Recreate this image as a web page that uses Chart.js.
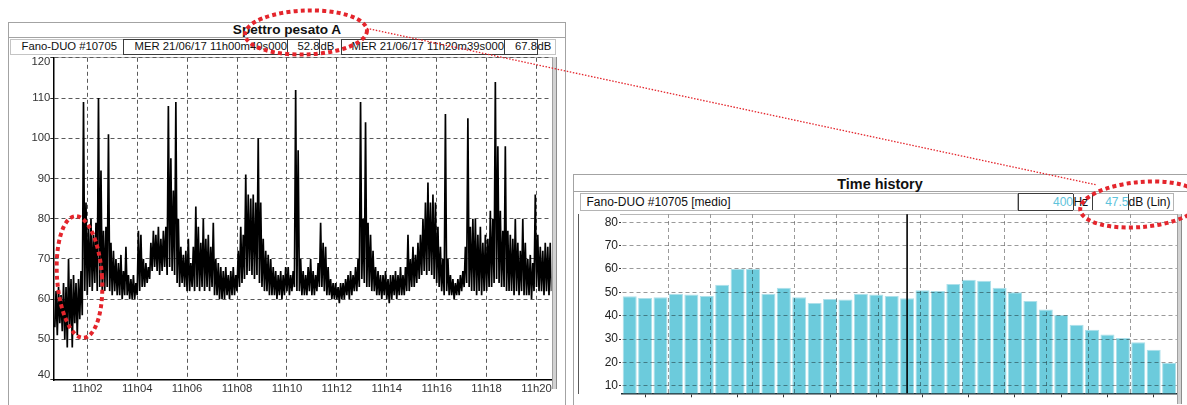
<!DOCTYPE html>
<html><head><meta charset="utf-8">
<script src="https://cdn.jsdelivr.net/npm/chart.js@4.4.1/dist/chart.umd.min.js"></script>
<style>
html,body{margin:0;padding:0;background:#fff;}
body{width:1187px;height:405px;overflow:hidden;position:relative;font-family:"Liberation Sans",Arial,sans-serif;color:#111;}
.a{position:absolute;box-sizing:border-box;}
.t{position:absolute;white-space:nowrap;line-height:1;}
.lf{font-size:11.3px;}
.rf{font-size:12px;}
.dark{border:1px solid #3c3c3c;}
.light{border:1px solid #b4b4b4;}
</style></head><body>

<!-- ===== left panel frame ===== -->
<div class="a" style="left:8px;top:22px;width:558px;height:430px;border:1.5px solid #a3a3a3;"></div>
<div class="a" style="left:9px;top:36.5px;width:556px;height:1px;background:#a3a3a3;"></div>
<div class="t" style="left:8px;width:558px;text-align:center;top:23px;font-weight:bold;font-size:13.6px;">Spettro pesato A</div>
<div class="a light" style="left:10px;top:38.5px;width:546px;height:16px;border-color:#c4c4c4;"></div>
<div class="a dark" style="left:122.5px;top:38.5px;width:165px;height:16px;"></div>
<div class="a dark" style="left:287px;top:38.5px;width:33px;height:16px;"></div>
<div class="a dark" style="left:340.5px;top:38.5px;width:164px;height:16px;"></div>
<div class="a dark" style="left:504px;top:38.5px;width:33.5px;height:16px;"></div>
<div class="t lf" style="left:21.5px;top:41.2px;">Fano-DUO #10705</div>
<div class="t lf" style="left:122px;width:165px;text-align:right;top:41.2px;">MER 21/06/17 11h00m40s000</div>
<div class="t lf" style="left:287px;width:32.5px;text-align:right;top:41.2px;">52.8</div>
<div class="t lf" style="left:320.5px;top:41.2px;">dB</div>
<div class="t lf" style="left:340px;width:164px;text-align:right;top:41.2px;">MER 21/06/17 11h20m39s000</div>
<div class="t lf" style="left:504px;width:33px;text-align:right;top:41.2px;">67.8</div>
<div class="t lf" style="left:537.5px;top:41.2px;">dB</div>
<div class="a" style="left:53px;top:56.5px;width:503px;height:1px;background:#b8b8b8;"></div>
<div class="a" style="left:551.5px;top:56.5px;width:5px;height:332px;background:#d2d2d2;border-left:1px solid #a0a0a0;border-right:1px solid #8c8c8c;"></div>

<div class="a" style="left:8px;top:56px;width:557px;height:349px;"><canvas id="cA" width="557" height="349"></canvas></div>

<!-- ===== right panel frame ===== -->
<div class="a" style="left:573px;top:174px;width:630px;height:260px;border:1.5px solid #a3a3a3;"></div>
<div class="a" style="left:574px;top:191.3px;width:620px;height:1px;background:#a3a3a3;"></div>
<div class="t" style="left:573px;width:614px;text-align:center;top:177.1px;font-weight:bold;font-size:14.4px;">Time history</div>
<div class="a light" style="left:580px;top:193.3px;width:438px;height:18px;"></div>
<div class="a dark" style="left:1018px;top:193.3px;width:55.5px;height:18px;"></div>
<div class="a dark" style="left:1092px;top:193.3px;width:36.5px;height:18px;"></div>
<div class="a" style="left:1172.5px;top:193.3px;width:1px;height:18px;background:#b4b4b4;"></div>
<div class="a" style="left:1073px;top:193.3px;width:100px;height:1px;background:#b4b4b4;"></div>
<div class="a" style="left:1073px;top:210.3px;width:100px;height:1px;background:#b4b4b4;"></div>
<div class="t rf" style="left:586.5px;top:195.5px;">Fano-DUO #10705 [medio]</div>
<div class="t rf" id="hzVal" style="left:1018px;width:55px;text-align:right;top:195.5px;color:#5ec3db;"></div>
<div class="t rf" style="left:1073.5px;top:195.5px;">Hz</div>
<div class="t rf" id="dbVal" style="left:1092px;width:36.5px;text-align:right;top:195.5px;color:#5ec3db;"></div>
<div class="t rf" style="left:1128.5px;top:195.5px;">dB (Lin)</div>
<div class="a" style="left:620px;top:213.5px;width:560px;height:1px;background:#b8b8b8;"></div>
<div class="a" style="left:1177px;top:213.5px;width:4.5px;height:190px;background:#d2d2d2;border-left:1px solid #a0a0a0;border-right:1px solid #8c8c8c;"></div>

<div class="a" style="left:578px;top:212px;width:609px;height:193px;"><canvas id="cB" width="609" height="193"></canvas></div>

<!-- ===== red annotations ===== -->
<svg class="a" style="left:0;top:0;pointer-events:none;" width="1187" height="405">
  <g fill="none" stroke="#e4252c">
    <line x1="366.7" y1="28.3" x2="1097" y2="185" stroke-width="1.3" stroke-dasharray="1.5 1.6"/>
    <ellipse cx="306" cy="32.5" rx="61" ry="22" transform="rotate(-2 306 32.5)" stroke-width="4" stroke-dasharray="4 3.2"/>
    <ellipse cx="79.5" cy="277" rx="22.5" ry="61" transform="rotate(-4 79.5 277)" stroke-width="4" stroke-dasharray="4 3.2"/>
    <ellipse cx="1141" cy="204.5" rx="61" ry="22.5" transform="rotate(-5 1141 204.5)" stroke-width="4" stroke-dasharray="4 3.2"/>
  </g>
</svg>

<script>
// ---------- left chart: A-weighted level vs time ----------
const minuteTicks = [2, 4, 6, 8, 10, 12, 14, 16, 18, 20];          // minutes after 11h00
const levelTicksA = [40, 50, 60, 70, 80, 90, 100, 110, 120];        // dB
const sampleStart = 0.7;   // first sample, minutes after 11h00
const sampleStep = 0.1;    // minutes between samples
const bandLow = [
  53,51,54,52,50,48,53,48,54,51,
  55,56,62,61,63,62,64,62,63,62,
  62,63,62,61,62,61,61,60,61,61,
  60,60,60,61,62,63,63,64,65,67,
  68,67,66,67,68,66,68,67,66,64,
  63,64,63,62,62,63,62,63,62,63,
  62,63,62,63,61,61,60,60,60,61,
  60,61,61,62,63,64,65,66,67,66,
  65,66,64,63,62,62,61,61,61,60,
  61,60,61,62,61,62,63,62,62,61,
  61,61,62,61,61,62,63,63,62,61,
  61,60,60,60,59,60,60,61,60,61,
  62,62,63,65,64,63,63,62,62,61,
  61,60,61,60,59,60,61,60,61,61,
  61,62,62,63,63,64,65,66,67,66,
  67,66,65,64,63,62,61,62,61,61,
  60,61,61,62,63,64,63,62,62,61,
  62,61,62,62,63,63,64,65,64,63,
  63,62,62,62,61,62,61,62,61,61,
  61,60,62,63,62,62,61,62,61,62
];
const bandHigh = [
  62,63,61,64,63,70,65,66,64,65,
  67,109,84,78,80,76,79,110,92,77,
  78,101,74,72,70,69,71,67,73,66,
  65,66,64,77,76,70,69,68,74,77,
  76,78,75,77,78,108,95,87,109,80,
  73,71,72,75,69,73,83,78,74,80,
  75,76,73,79,70,69,68,67,68,66,
  67,68,66,72,78,76,91,86,85,86,
  84,100,84,75,72,71,70,68,67,66,
  67,66,68,68,66,67,112,97,70,67,
  66,68,70,67,66,69,79,74,73,68,
  65,64,64,63,64,64,65,66,67,66,
  68,70,109,80,104,79,76,72,68,67,
  66,66,67,65,66,66,67,66,68,66,
  68,76,70,73,71,74,76,80,84,89,
  84,86,84,78,73,70,106,70,66,65,
  64,65,66,67,73,105,78,80,80,76,
  78,74,76,75,82,80,114,98,82,77,
  98,77,76,75,80,74,72,80,74,70,
  71,69,86,76,73,72,74,73,74,73
];

// ---------- right chart: 1/3-octave spectrum ----------
const bands = ['6.3','8','10','12.5','16','20','25','31.5','40','50','63','80','100','125','160','200','250','315',
               '400','500','630','800','1k','1.25k','1.6k','2k','2.5k','3.15k','4k','5k','6.3k','8k','10k','12.5k','16k','20k'];
const bandLevels = [48.3,47.6,47.9,49.4,49.1,48.4,53.3,60.0,60.0,49.4,52.0,47.9,45.4,47.1,46.9,49.4,49.1,48.4,
                    47.5,50.9,50.6,53.6,55.4,55.0,52.0,50.0,46.3,42.6,40.3,36.1,34.0,31.9,30.4,28.6,25.4,19.7];
const levelTicksB = [10, 20, 30, 40, 50, 60, 70, 80];
const cursorBand = '400';

Chart.defaults.font.family = '"Liberation Sans", Arial, sans-serif';
Chart.defaults.animation = false;
Chart.defaults.events = [];

function noPad(s) { s.paddingTop = 0; s.paddingBottom = 0; s.paddingLeft = 0; s.paddingRight = 0; }

// build the line from the low / high envelope readings
const linePts = [];
bandLow.forEach((lo, i) => {
  const t = sampleStart + i * sampleStep;
  linePts.push({x: t, y: lo});
  linePts.push({x: t + sampleStep / 2, y: bandHigh[i]});
});

// end labels of the level axis are nudged inside the plot, as in the original
const edgeLabelPlugin = {
  id: 'edgeLabels',
  afterDraw(c) {
    const s = c.scales.y, ctx = c.ctx;
    const top = levelTicksA[levelTicksA.length - 1], bottom = levelTicksA[0];
    ctx.save();
    ctx.font = '11.3px "Liberation Sans", Arial, sans-serif';
    ctx.fillStyle = '#333';
    ctx.textAlign = 'right';
    ctx.textBaseline = 'middle';
    ctx.fillText(String(top), s.right - 3, s.getPixelForValue(top) + 4.3);
    ctx.fillText(String(bottom), s.right - 3, s.getPixelForValue(bottom) - 4.3);
    ctx.restore();
  }
};

new Chart(document.getElementById('cA'), {
  type: 'line',
  data: { datasets: [{ data: linePts, borderColor: '#000', borderWidth: 1.7, pointRadius: 0, tension: 0, borderJoinStyle: 'bevel' }] },
  options: {
    responsive: false,
    layout: { padding: { top: 1.8, right: 13.5, left: 0, bottom: 0 } },
    plugins: { legend: { display: false }, tooltip: { enabled: false } },
    scales: {
      x: {
        type: 'linear', min: 0.64, max: 20.6,
        afterBuildTicks: s => { s.ticks = minuteTicks.map(v => ({value: v})); },
        afterFit: s => { s.height = 25; noPad(s); },
        ticks: { callback: v => '11h' + String(v).padStart(2, '0'), color: '#333', font: { size: 11.3 }, padding: 2, maxRotation: 0, autoSkip: false },
        grid: { color: '#5a5a5a', lineWidth: 1, drawTicks: false },
        border: { display: true, color: '#000', width: 1.5, dash: [4, 3] }
      },
      y: {
        min: 39.9, max: 120,
        afterBuildTicks: s => { s.ticks = levelTicksA.map(v => ({value: v})); },
        afterFit: s => { s.width = 45.3; noPad(s); },
        ticks: { callback: v => ((v === levelTicksA[levelTicksA.length - 1] || v === levelTicksA[0]) ? '' : String(v)), color: '#333', font: { size: 11.3 }, padding: 0 },
        grid: { color: '#5a5a5a', lineWidth: 1, tickLength: 3, tickColor: '#333' },
        border: { display: true, color: '#000', width: 1.5, dash: [4, 3] }
      }
    }
  },
  plugins: [edgeLabelPlugin]
});

// ---------- right chart ----------
const cursorIdx = bands.indexOf(cursorBand);
document.getElementById('hzVal').textContent = cursorBand;
document.getElementById('dbVal').textContent = bandLevels[cursorIdx].toFixed(1);

const gridBoundaries = [];
for (let k = 3; k < bands.length; k += 3) gridBoundaries.push(k - 0.5);

const multiplyGrid = {
  id: 'multiplyGrid',
  afterDatasetsDraw(c) { c.ctx.save(); c.ctx.globalCompositeOperation = 'multiply'; },
  afterDraw(c) {
    c.ctx.restore();
    const x = c.scales.x.getPixelForValue(cursorIdx);
    const ctx = c.ctx;
    ctx.save();
    ctx.strokeStyle = '#000';
    ctx.lineWidth = 1.6;
    ctx.beginPath();
    ctx.moveTo(x, c.chartArea.top);
    ctx.lineTo(x, c.chartArea.bottom);
    ctx.stroke();
    ctx.restore();
  }
};

new Chart(document.getElementById('cB'), {
  type: 'bar',
  data: { labels: bands, datasets: [{ data: bandLevels, backgroundColor: '#6ccbdc', borderColor: '#ade0ea', borderWidth: 1, borderSkipped: 'bottom', categoryPercentage: 1, barPercentage: 0.91 }] },
  options: {
    responsive: false,
    layout: { padding: { top: 2.3, right: 10.2, left: 0, bottom: 0 } },
    plugins: { legend: { display: false }, tooltip: { enabled: false } },
    scales: {
      x: {
        type: 'category', offset: true,
        afterFit: s => { s.height = 11.7; noPad(s); },
        ticks: { display: false },
        grid: { display: true, drawOnChartArea: false, offset: false, tickLength: 4,
                tickColor: ctx => (ctx.index % 3 === 1 ? '#333' : 'rgba(0,0,0,0)') },
        border: { display: true, color: '#1e2e33', width: 1.5 }
      },
      xg: {
        type: 'linear', position: 'top', min: -0.5, max: bands.length - 0.5,
        afterBuildTicks: s => { s.ticks = gridBoundaries.map(v => ({value: v})); },
        afterFit: s => { s.height = 0; noPad(s); },
        ticks: { display: false },
        grid: { color: '#9a9a9a', lineWidth: 1, drawTicks: false, z: 1 },
        border: { display: false, dash: [4, 3] }
      },
      y: {
        min: 6.74, max: 83.43,
        afterBuildTicks: s => { s.ticks = levelTicksB.map(v => ({value: v})); },
        afterFit: s => { s.width = 44; noPad(s); },
        ticks: { color: '#222', font: { size: 12 }, padding: 1 },
        grid: { color: '#9a9a9a', lineWidth: 1, tickLength: 3, tickColor: '#333', z: 1 },
        border: { display: true, color: '#222', width: 1.5, dash: [4, 3] }
      }
    }
  },
  plugins: [multiplyGrid]
});
</script>
</body></html>
